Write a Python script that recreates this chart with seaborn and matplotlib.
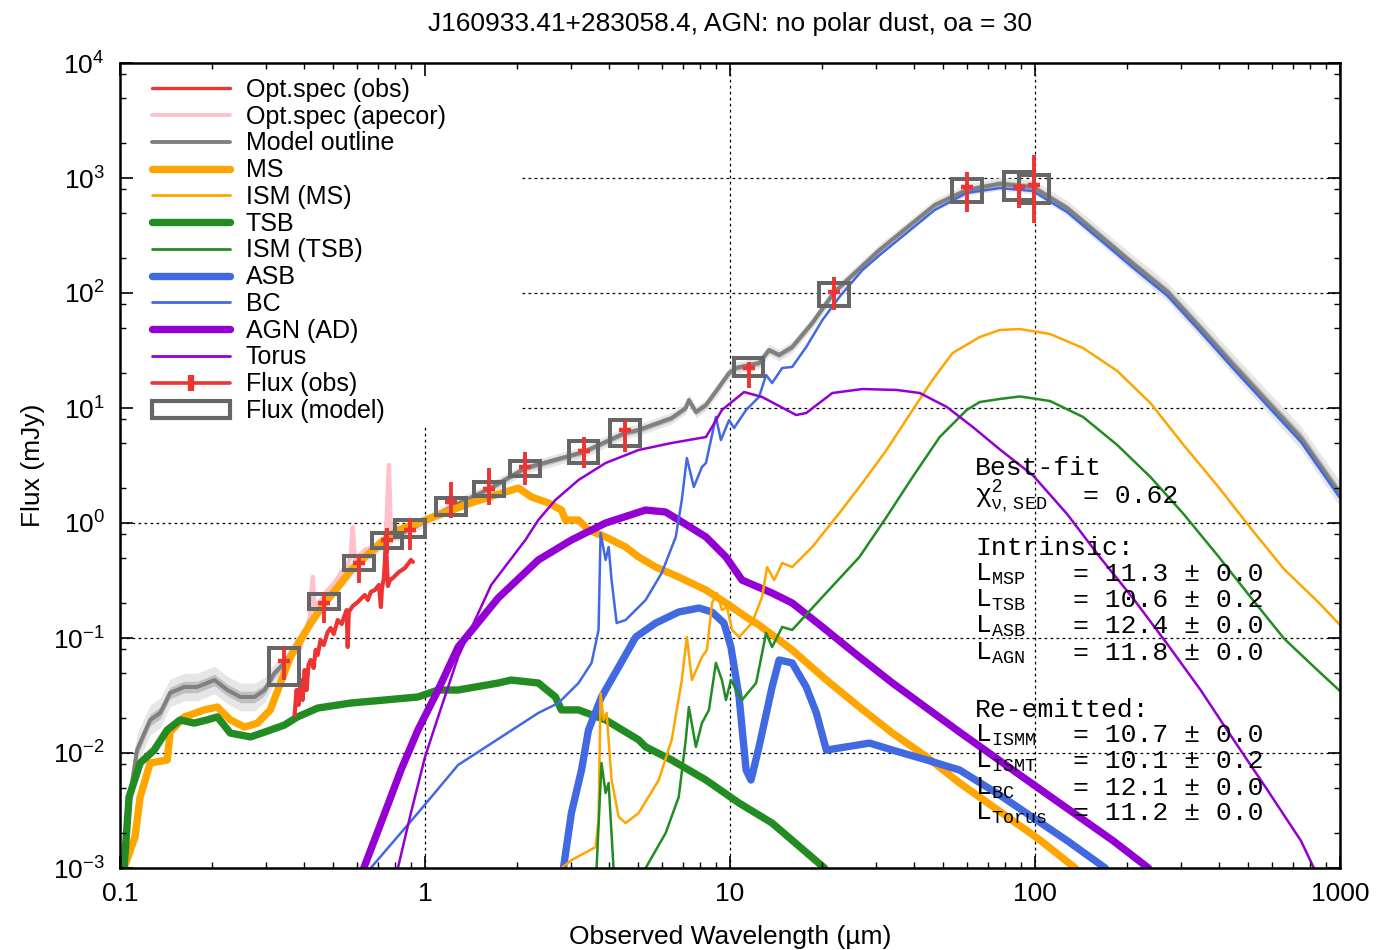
import numpy as np
import matplotlib
matplotlib.use("Agg")
import matplotlib.pyplot as plt
import seaborn as sns
import pandas as pd
from matplotlib.patches import Rectangle
from matplotlib.lines import Line2D
from matplotlib.ticker import FixedLocator, NullFormatter

# ---------------- data (wavelength in micron, flux in mJy) ----------------
outline_wl = [0.104, 0.1078, 0.1137, 0.1256, 0.1355, 0.146, 0.1625, 0.179, 0.204, 0.225, 0.248, 0.276,
              0.298, 0.321, 0.346, 0.469, 0.607, 0.75, 0.893, 1.22, 1.62, 2.13, 3.31, 4.52, 5.02, 6.44,
              7.16, 7.33, 7.73, 8.34, 9.06, 9.93, 10.46, 12.45, 13.43, 14.49, 15.99, 18.6, 21.98, 30.9,
              46.9, 59.7, 76.7, 98.4, 127.4, 163.7, 210, 272, 349, 448, 579, 745, 1000]
outline_flux = [0.001, 0.00414, 0.0106, 0.0194, 0.0223, 0.0333, 0.0375, 0.0375, 0.0431, 0.0353, 0.0307,
                0.0307, 0.0353, 0.0496, 0.0607, 0.206, 0.449, 0.711, 0.887, 1.38, 1.975, 3.0, 4.14, 6.06,
                6.44, 8.18, 10.0, 11.74, 9.23, 10.62, 14.35, 20.15, 22.3, 24.6, 31.9, 28.9, 33.9, 54.8,
                102, 236.6, 582, 787, 890, 835, 548, 313, 179, 102, 49.6, 23.6, 11.3, 5.48, 1.79]
outline_unc_outer = [0.15, 0.15, 0.14, 0.13, 0.13, 0.12, 0.12, 0.12, 0.12, 0.12, 0.12, 0.12, 0.11, 0.09,
                     0.07, 0.05, 0.05, 0.05, 0.05, 0.05, 0.05, 0.05, 0.05, 0.05, 0.05, 0.05, 0.05, 0.05,
                     0.05, 0.05, 0.05, 0.05, 0.05, 0.05, 0.05, 0.05, 0.05, 0.05, 0.05, 0.05, 0.05, 0.05,
                     0.055, 0.06, 0.065, 0.07, 0.075, 0.08, 0.085, 0.09, 0.095, 0.10, 0.11]
outline_unc_inner = [0.06, 0.06, 0.06, 0.05, 0.05, 0.05, 0.05, 0.05, 0.05, 0.05, 0.05, 0.05, 0.045, 0.04,
                     0.03, 0.025, 0.025, 0.025, 0.025, 0.025, 0.025, 0.025, 0.025, 0.025, 0.025, 0.025,
                     0.025, 0.025, 0.025, 0.025, 0.025, 0.025, 0.025, 0.025, 0.025, 0.025, 0.025, 0.025,
                     0.025, 0.025, 0.025, 0.025, 0.03, 0.03, 0.03, 0.035, 0.035, 0.04, 0.04, 0.045, 0.045,
                     0.05, 0.05]

ms_wl = [0.1031, 0.112, 0.1164, 0.1256, 0.1428, 0.146, 0.1625, 0.189, 0.2085, 0.230, 0.256, 0.2825, 0.311,
         0.336, 0.362, 0.391, 0.422, 0.469, 0.518, 0.571, 0.635, 0.716, 0.815, 0.948, 1.104, 1.416, 1.834,
         2.023, 2.234, 2.54, 2.80, 2.887, 3.186, 3.436, 3.91, 4.548, 5.02, 5.71, 6.79, 8.34, 9.70, 11.29,
         12.45, 15.99, 20.7, 26.56, 34.1, 44.2, 56.6, 76.7, 103.8, 135.5]
ms_flux = [0.001, 0.00186, 0.00414, 0.00818, 0.00869, 0.0152, 0.0206, 0.0237, 0.0251, 0.0194, 0.0168,
           0.0182, 0.0237, 0.0406, 0.0684, 0.0961, 0.135, 0.2015, 0.2776, 0.39, 0.506, 0.67, 0.869, 1.0,
           1.17, 1.493, 1.861, 2.014, 1.683, 1.493, 1.297, 1.062, 1.062, 0.869, 0.756, 0.618, 0.506, 0.414,
           0.339, 0.2614, 0.2015, 0.1524, 0.1297, 0.0787, 0.0431, 0.0251, 0.0149, 0.00923, 0.00548, 0.0031,
           0.00175, 0.001]

tsb_wl = [0.1031, 0.1071, 0.1164, 0.1294, 0.1428, 0.1574, 0.175, 0.193, 0.2085, 0.230, 0.268, 0.298, 0.346,
          0.382, 0.445, 0.571, 0.738, 0.948, 1.104, 1.284, 1.738, 1.918, 2.353, 2.677, 2.80, 3.186, 3.91,
          5.02, 5.29, 6.44, 8.34, 10.71, 13.74, 20.4]
tsb_flux = [0.001, 0.00414, 0.00818, 0.0106, 0.01585, 0.0194, 0.0182, 0.0194, 0.0206, 0.0149, 0.0138,
            0.0152, 0.0175, 0.0206, 0.0246, 0.0272, 0.0289, 0.0307, 0.0353, 0.0353, 0.0406, 0.0431, 0.0406,
            0.0307, 0.0237, 0.0237, 0.0194, 0.013, 0.0113, 0.00869, 0.00582, 0.00367, 0.00246, 0.001]

asb_wl = [2.844, 3.02, 3.26, 3.436, 3.79, 4.315, 4.909, 5.71, 6.79, 7.91, 8.73, 9.55, 10.07, 10.71, 11.29,
          11.72, 12.45, 13.74, 14.49, 15.99, 17.78, 19.19, 20.7, 28.7, 34.1, 44.2, 56.6, 76.7, 127.4, 169.9]
asb_flux = [0.001, 0.00301, 0.00711, 0.01585, 0.0307, 0.056, 0.102, 0.135, 0.1683, 0.1824, 0.1683, 0.135,
            0.0835, 0.0307, 0.00711, 0.00582, 0.0113, 0.0375, 0.0644, 0.0607, 0.0375, 0.0223, 0.0106,
            0.0122, 0.0106, 0.00869, 0.00711, 0.0043, 0.00173, 0.001]

agn_wl = [0.63, 0.738, 0.834, 0.948, 1.104, 1.284, 1.738, 2.353, 3.02, 3.91, 5.29, 6.15, 6.79, 8.34, 9.70,
          10.95, 13.74, 15.99, 20.09, 26.56, 34.1, 56.6, 94.1, 180.6, 235.4]
agn_flux = [0.001, 0.00301, 0.00711, 0.01585, 0.0353, 0.0835, 0.223, 0.477, 0.711, 1.0, 1.297, 1.246,
            1.062, 0.756, 0.506, 0.319, 0.246, 0.2015, 0.1247, 0.0684, 0.0406, 0.0152, 0.00582, 0.00172,
            0.001]

torus_wl = [0.815, 0.899, 1.0, 1.104, 1.284, 1.648, 2.133, 2.353, 2.677, 3.186, 3.91, 5.02, 6.44, 8.34,
            8.73, 9.41, 11.12, 12.74, 16.48, 17.78, 21.66, 27.18, 35.2, 41.9, 51.4, 62.5, 76.7, 98.4,
            127.4, 163.7, 210, 272, 349, 448, 579, 745, 821]
torus_flux = [0.001, 0.00301, 0.00923, 0.0206, 0.0684, 0.289, 0.711, 1.062, 1.585, 2.365, 3.325, 4.315,
              4.963, 5.594, 6.84, 9.61, 13.77, 12.47, 8.69, 9.05, 13.5, 14.62, 14.35, 13.5, 10.2, 6.84,
              4.36, 2.6, 1.197, 0.5, 0.22, 0.088, 0.0353, 0.013, 0.00474, 0.00172, 0.001]

bc_wl = [0.664, 0.948, 1.284, 2.353, 2.738, 3.186, 3.516, 3.707, 3.764, 3.91, 4.0, 4.09, 4.25, 4.548, 5.29,
         5.97, 6.64, 6.95, 7.22, 7.61, 8.09, 8.34, 8.99, 9.34, 9.93, 10.31, 11.29, 12.45, 13.13, 13.74,
         14.83, 15.99, 17.78, 20.09, 22.84, 27.18, 30.9, 46.9, 59.7, 76.7, 98.4, 127.4, 163.7, 210, 272,
         349, 448, 579, 745, 1000]
bc_flux = [0.001, 0.00301, 0.00787, 0.0223, 0.0272, 0.0406, 0.0607, 0.1175, 0.818, 0.477, 0.618, 0.319,
           0.135, 0.1434, 0.214, 0.367, 0.756, 1.585, 3.673, 2.056, 3.068, 3.325, 8.35, 5.27, 7.86, 6.70,
           9.61, 12.47, 19.37, 16.49, 22.28, 22.74, 33.9, 58.2, 92.3, 158.5, 213, 527, 741, 818, 771, 506,
           289, 165, 94.2, 45.8, 21.8, 10.4, 5.06, 1.65]

ism_ms_wl = [2.8, 3.02, 3.625, 3.707, 3.764, 3.85, 3.94, 4.09, 4.315, 4.548, 5.02, 5.84, 6.44, 6.95, 7.22,
             7.50, 8.09, 8.40, 8.73, 9.06, 9.41, 9.77, 10.16, 10.71, 11.81, 12.74, 13.23, 13.96, 14.83,
             15.99, 18.6, 22.84, 27.18, 32.6, 39.7, 46.1, 53.7, 65.9, 76.7, 89.3, 112, 143.8, 186, 239,
             307, 397, 509, 655, 847, 1000]
ism_ms_flux = [0.001, 0.00117, 0.00152, 0.00261, 0.0333, 0.0194, 0.0223, 0.00582, 0.00278, 0.00246,
               0.00301, 0.00582, 0.013, 0.0431, 0.102, 0.0431, 0.0684, 0.0787, 0.2015, 0.246, 0.175, 0.186,
               0.1175, 0.102, 0.135, 0.2274, 0.414, 0.319, 0.449, 0.414, 0.618, 1.222, 2.228, 4.315, 9.61,
               17.5, 30.1, 41.4, 47.7, 48.6, 44.0, 33.2, 21.0, 11.05, 4.77, 2.10, 0.905, 0.398, 0.206, 0.130]

ism_tsb_wl_a = [3.652, 3.79, 3.91, 4.0, 4.15]
ism_tsb_flux_a = [0.001, 0.00818, 0.00449, 0.00548, 0.001]
ism_tsb_wl_b = [5.29, 6.15, 6.79, 7.16, 7.33, 7.73, 8.09, 8.53, 8.99, 9.41, 9.70, 10.07, 10.95, 12.18, 13.13,
                13.74, 14.83, 15.99, 20.09, 26.56, 32.6, 39.7, 48.7, 59.7, 65.9, 76.7, 89.3, 112, 143.8,
                186, 239, 307, 397, 509, 655, 847, 1000]
ism_tsb_flux_b = [0.001, 0.00201, 0.00414, 0.013, 0.0251, 0.0113, 0.0182, 0.0237, 0.0607, 0.0431, 0.0289,
                  0.0431, 0.0289, 0.0406, 0.1105, 0.0835, 0.1247, 0.1175, 0.2274, 0.506, 1.127, 2.512,
                  5.594, 9.61, 11.27, 11.98, 12.6, 11.5, 8.35, 4.77, 2.512, 1.197, 0.522, 0.227, 0.099,
                  0.052, 0.0346]

spec_obs_wl = [0.3736, 0.3793, 0.385, 0.391, 0.397, 0.403, 0.409, 0.415, 0.4217, 0.4314, 0.4379, 0.4446,
               0.4549, 0.4654, 0.4797, 0.4907, 0.502, 0.5174, 0.5333, 0.5456, 0.554, 0.5579, 0.5623,
               0.5796, 0.602, 0.6205, 0.6347, 0.6494, 0.6644, 0.6849, 0.7061, 0.7169, 0.7224, 0.7334,
               0.739, 0.7446, 0.75, 0.7558, 0.7674, 0.7846, 0.8026, 0.8213, 0.8402, 0.8594, 0.8794,
               0.8993, 0.9131]
spec_obs_flux = [0.0214, 0.0353, 0.0262, 0.0431, 0.0289, 0.0527, 0.0353, 0.0582, 0.0644, 0.0548, 0.0787,
                 0.0712, 0.0961, 0.0869, 0.1128, 0.1222, 0.1083, 0.1434, 0.1323, 0.1585, 0.175, 0.0835,
                 0.1683, 0.1897, 0.2056, 0.2228, 0.2366, 0.214, 0.2512, 0.2614, 0.289, 0.186, 0.2721,
                 0.3323, 0.477, 0.7865, 0.4313, 0.2833, 0.319, 0.3323, 0.353, 0.375, 0.39, 0.4062, 0.44,
                 0.477, 0.458]

spec_apecor_wl = [0.3736, 0.382, 0.391, 0.3999, 0.409, 0.4185, 0.4282, 0.4347, 0.4446, 0.4612, 0.4797,
                  0.4986, 0.5174, 0.5373, 0.5579, 0.5711, 0.5796, 0.5884, 0.6113, 0.6347, 0.6593, 0.6902,
                  0.7169, 0.7446, 0.7614, 0.773, 0.8026, 0.8337, 0.866, 0.8993]
spec_apecor_flux = [0.0787, 0.0961, 0.0819, 0.1128, 0.1222, 0.1493, 0.339, 0.1683, 0.1936, 0.2228, 0.2614,
                    0.289, 0.3323, 0.39, 0.4313, 0.527, 0.923, 0.477, 0.527, 0.582, 0.606, 0.644, 0.711,
                    0.741, 3.19, 0.7865, 0.835, 0.869, 0.905, 0.961]

phot_wl = [0.346, 0.465, 0.607, 0.75, 0.893, 1.22, 1.62, 2.13, 3.31, 4.52, 11.5, 22.0, 59.7, 88.5, 99.3]
obs_flux = [0.0631, 0.2015, 0.449, 0.711, 0.869, 1.52, 1.975, 3.07, 4.23, 6.43, 22.3, 102, 835, 835, 869]
obs_lo = [0.0433, 0.135, 0.3007, 0.548, 0.582, 1.105, 1.434, 2.139, 3.008, 4.143, 14.9, 71.3, 506, 548, 406]
obs_hi = [0.0834, 0.2465, 0.527, 0.905, 1.105, 2.273, 3.008, 4.143, 5.592, 7.86, 25.1, 137.7, 1127, 905, 1585]
model_flux = [0.0563, 0.206, 0.449, 0.711, 0.887, 1.38, 1.975, 3.0, 4.14, 6.06, 22.6, 98, 771, 851, 802]
model_unc_dex = [0.16, 0.065, 0.065, 0.065, 0.074, 0.074, 0.065, 0.065, 0.095, 0.109, 0.078, 0.1, 0.1,
                 0.118, 0.123]

x_ticks = [0.1, 1, 10, 100, 1000]
x_ticklabels = ["0.1", "1", "10", "100", "1000"]
y_exponents = [-3, -2, -1, 0, 1, 2, 3, 4]

legend_labels = ["Opt.spec (obs)", "Opt.spec (apecor)", "Model outline", "MS", "ISM (MS)", "TSB",
                 "ISM (TSB)", "ASB", "BC", "AGN (AD)", "Torus", "Flux (obs)", "Flux (model)"]

title = "J160933.41+283058.4, AGN: no polar dust, oa = 30"
fit_lines = [("Best-fit", None, 0.4882),
             (r"$\chi^{2}_{\nu,\ \mathtt{SED}}$", "= 0.62", 0.4534),
             ("Intrinsic:", None, 0.3888),
             (r"$\mathtt{L_{MSP}}$", "= 11.3 \u00b1 0.0", 0.3565),
             (r"$\mathtt{L_{TSB}}$", "= 10.6 \u00b1 0.2", 0.3242),
             (r"$\mathtt{L_{ASB}}$", "= 12.4 \u00b1 0.0", 0.2919),
             (r"$\mathtt{L_{AGN}}$", "= 11.8 \u00b1 0.0", 0.2584),
             ("Re-emitted:", None, 0.1876),
             (r"$\mathtt{L_{ISMM}}$", "= 10.7 \u00b1 0.0", 0.1565),
             (r"$\mathtt{L_{ISMT}}$", "= 10.1 \u00b1 0.2", 0.1242),
             (r"$\mathtt{L_{BC}}$", "= 12.1 \u00b1 0.0", 0.0907),
             (r"$\mathtt{L_{Torus}}$", "= 11.2 \u00b1 0.0", 0.0596)]

# ---------------- style ----------------
sns.set_theme(style="white")
plt.rcParams["font.family"] = ["Liberation Sans", "DejaVu Sans"]
plt.rcParams["mathtext.fontset"] = "custom"
plt.rcParams["mathtext.rm"] = "Liberation Sans"
plt.rcParams["mathtext.it"] = "Liberation Mono"
plt.rcParams["mathtext.tt"] = "Liberation Mono"
plt.rcParams["mathtext.bf"] = "Liberation Sans:bold"
for k in ["text.color", "axes.labelcolor", "xtick.color", "ytick.color"]:
    plt.rcParams[k] = "black"

C_RED = "#ee3333"
C_PINK = "#ffc0cb"
C_GRAY = "#808080"
C_BOX = "#666666"
C_ORANGE = "#ffa500"
C_GREEN = "#228b22"
C_BLUE = "#4169e1"
C_PURPLE = "#9400d3"
THICK, THIN = 5.3, 1.8

fig = plt.figure(figsize=(13.76, 9.5), dpi=100)
pos = [120 / 1376, 82 / 950, 1220 / 1376, 805 / 950]
ax = fig.add_axes(pos)
ax.set_xscale("log")
ax.set_yscale("log")
ax.set_xlim(0.1, 1000)
ax.set_ylim(1e-3, 1e4)

# grid (main axes), covered by the key box area
ax.xaxis.set_major_locator(FixedLocator(x_ticks))
ax.yaxis.set_major_locator(FixedLocator([10.0 ** e for e in y_exponents]))
ax.xaxis.set_minor_locator(FixedLocator([]))
ax.yaxis.set_minor_locator(FixedLocator([]))
ax.tick_params(length=0, labelbottom=False, labelleft=False)
ax.set_axisbelow(True)
ax.grid(True, which="major", color="black", linestyle=(0, (2.2, 2.6)), linewidth=0.9)
for s in ax.spines.values():
    s.set_visible(False)
ax.add_patch(Rectangle((0, (868 - 425) / 805), (520 - 120) / 1220, 1 - (868 - 425) / 805,
                       transform=ax.transAxes, facecolor="white", edgecolor="none", zorder=1))


def curve(wl, fl, color, lw, z):
    df = pd.DataFrame({"wl": wl, "flux": fl})
    sns.lineplot(data=df, x="wl", y="flux", sort=False, estimator=None, color=color,
                 linewidth=lw, ax=ax, zorder=z, legend=False)


# model outline with uncertainty bands
ow = np.array(outline_wl)
of = np.array(outline_flux)
uo = np.array(outline_unc_outer)
ui = np.array(outline_unc_inner)
ax.fill_between(ow, of * 10 ** (-uo), of * 10 ** uo, color="#e6e6e6", lw=0, zorder=1.2)
ax.fill_between(ow, of * 10 ** (-ui), of * 10 ** ui, color="#c0c0c0", lw=0, zorder=1.3)
curve(outline_wl, outline_flux, C_GRAY, 2.9, 2)

curve(spec_apecor_wl, spec_apecor_flux, C_PINK, 3.2, 2.4)
curve(ms_wl, ms_flux, C_ORANGE, THICK, 3)
curve(tsb_wl, tsb_flux, C_GREEN, THICK, 3.1)
curve(asb_wl, asb_flux, C_BLUE, THICK, 3.2)
curve(agn_wl, agn_flux, C_PURPLE, THICK, 3.3)
curve(ism_ms_wl, ism_ms_flux, C_ORANGE, THIN, 3.4)
curve(ism_tsb_wl_a, ism_tsb_flux_a, C_GREEN, THIN, 3.4)
curve(ism_tsb_wl_b, ism_tsb_flux_b, C_GREEN, THIN, 3.4)
curve(bc_wl, bc_flux, C_BLUE, THIN, 3.5)
curve(torus_wl, torus_flux, C_PURPLE, THIN, 3.5)
curve(spec_obs_wl, spec_obs_flux, C_RED, 3.0, 3.6)

# model photometry boxes
box_half_dex = 0.049
for w, f, h in zip(phot_wl, model_flux, model_unc_dex):
    x0 = w * 10 ** (-box_half_dex)
    y0 = f * 10 ** (-h)
    ax.add_patch(Rectangle((x0, y0), w * 10 ** box_half_dex - x0, f * 10 ** h - y0,
                           fill=False, edgecolor=C_BOX, lw=2.9, zorder=5))

# observed photometry
of_ = np.array(obs_flux)
yerr = [of_ - np.array(obs_lo), np.array(obs_hi) - of_]
ax.errorbar(phot_wl, obs_flux, yerr=yerr, fmt="_", color=C_RED, ms=8, mew=3.2,
            elinewidth=2.8, capsize=0, zorder=6)

# legend
handles = [Line2D([], [], color=C_RED, lw=2.4),
           Line2D([], [], color=C_PINK, lw=2.8),
           Line2D([], [], color=C_GRAY, lw=2.8),
           Line2D([], [], color=C_ORANGE, lw=THICK),
           Line2D([], [], color=C_ORANGE, lw=2.0),
           Line2D([], [], color=C_GREEN, lw=THICK),
           Line2D([], [], color=C_GREEN, lw=2.0),
           Line2D([], [], color=C_BLUE, lw=THICK),
           Line2D([], [], color=C_BLUE, lw=2.0),
           Line2D([], [], color=C_PURPLE, lw=THICK),
           Line2D([], [], color=C_PURPLE, lw=2.0),
           Line2D([], [], color=C_RED, lw=2.6, marker="|", ms=12, mew=4.5),
           Rectangle((0, 0), 1, 1, facecolor="none", edgecolor=C_BOX, lw=3)]
leg = ax.legend(handles, legend_labels, loc="upper left", bbox_to_anchor=(32 / 1220, 1 - 15 / 805),
                borderaxespad=0, borderpad=0, frameon=False, fontsize=18, handlelength=3.1,
                handletextpad=0.65, labelspacing=0.11)
leg.set_zorder(7)

# fit summary text
tx_label = (975 - 120) / 1220
tx_eq = (1073 - 120) / 1220
tx_eq_chi = (1083 - 120) / 1220
for lab, val, yb in fit_lines:
    ax.text(tx_label, yb, lab, transform=ax.transAxes, family="Liberation Mono", fontsize=19,
            va="baseline", ha="left", zorder=4)
    if val is not None:
        xv = tx_eq_chi if "chi" in lab else tx_eq
        ax.text(xv, yb, val, transform=ax.transAxes, family="Liberation Mono", fontsize=19,
                va="baseline", ha="left", zorder=4)

# overlay axes for frame, ticks and labels
ax2 = fig.add_axes(pos, facecolor="none")
ax2.set_xscale("log")
ax2.set_yscale("log")
ax2.set_xlim(0.1, 1000)
ax2.set_ylim(1e-3, 1e4)
ax2.grid(False)
ax2.xaxis.set_major_locator(FixedLocator(x_ticks))
ax2.set_xticklabels(x_ticklabels)
minor_x = [m * 10.0 ** d for d in range(-1, 3) for m in range(2, 10)]
ax2.xaxis.set_minor_locator(FixedLocator(minor_x))
ax2.xaxis.set_minor_formatter(NullFormatter())
ax2.yaxis.set_major_locator(FixedLocator([10.0 ** e for e in y_exponents]))
ax2.set_yticklabels([r"$\mathdefault{10^{%d}}$" % e for e in y_exponents])
minor_y = [m * 10.0 ** d for d in range(-3, 4) for m in (2, 5, 8)]
ax2.yaxis.set_minor_locator(FixedLocator(minor_y))
ax2.yaxis.set_minor_formatter(NullFormatter())
ax2.tick_params(which="both", direction="in", top=True, right=True, bottom=True, left=True,
                colors="black", labelsize=19)
ax2.tick_params(which="major", length=9, width=1.2)
ax2.tick_params(which="minor", length=4.5, width=1.0)
ax2.tick_params(axis="x", which="major", pad=10)
ax2.tick_params(axis="y", which="major", pad=11)
for s in ax2.spines.values():
    s.set_visible(True)
    s.set_color("black")
    s.set_linewidth(1.8)
ax2.set_xlabel("Observed Wavelength (\u00b5m)", fontsize=19, labelpad=14)
ax2.set_ylabel("Flux (mJy)", fontsize=19, labelpad=6)
ax2.set_title(title, fontsize=19, pad=23)

fig.savefig("out.png", dpi=100)
